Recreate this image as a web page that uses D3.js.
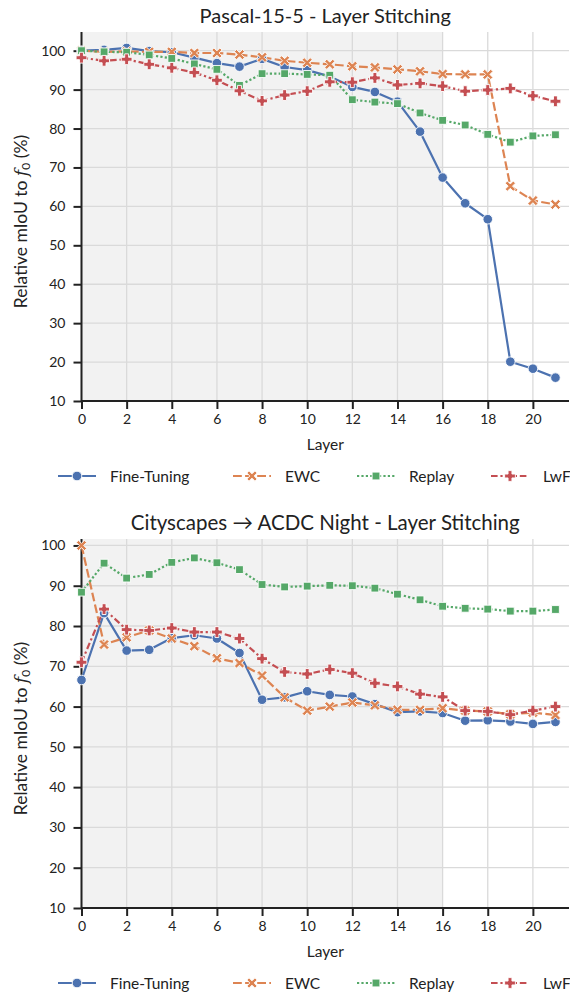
<!DOCTYPE html>
<html>
<head>
<meta charset="utf-8">
<script src="https://cdn.jsdelivr.net/npm/d3@7"></script>
<style>
  html, body { margin: 0; padding: 0; background: #fff; }
  svg { display: block; }
  text { font-family: Lato, "Open Sans", sans-serif; fill: #222; }
</style>
</head>
<body>
<svg id="chart" width="570" height="994"></svg>
<script>
// Layer index along the x axis
const layers = [0, 1, 2, 3, 4, 5, 6, 7, 8, 9, 10, 11, 12, 13, 14, 15, 16, 17, 18, 19, 20, 21];
const xTicks = [0, 2, 4, 6, 8, 10, 12, 14, 16, 18, 20];
const yTicks = [10, 20, 30, 40, 50, 60, 70, 80, 90, 100];
const methods = ["Fine-Tuning", "EWC", "Replay", "LwF"];

// Pascal-15-5: relative mIoU (%) per stitched layer
const pascalFineTuning = [100.0, 100.2, 100.7, 99.9, 99.6, 98.2, 96.8, 95.9, 97.9, 95.8, 95.0, 93.4, 90.7, 89.4, 86.9, 79.2, 67.4, 60.8, 56.7, 20.1, 18.3, 16.0];
const pascalEWC        = [100.0, 99.7, 99.8, 99.7, 99.7, 99.4, 99.4, 99.0, 98.3, 97.4, 96.9, 96.5, 96.0, 95.7, 95.2, 94.7, 94.0, 93.9, 93.9, 65.2, 61.5, 60.5];
const pascalReplay     = [100.0, 99.7, 99.6, 98.9, 98.0, 96.6, 95.2, 91.1, 94.1, 94.1, 93.9, 93.7, 87.4, 86.8, 86.4, 84.0, 82.1, 80.9, 78.5, 76.5, 78.1, 78.4];
const pascalLwF        = [98.2, 97.4, 97.8, 96.5, 95.6, 94.4, 92.4, 89.7, 87.1, 88.6, 89.6, 92.0, 91.9, 93.0, 91.2, 91.6, 90.9, 89.6, 89.9, 90.3, 88.4, 87.0];

// Cityscapes -> ACDC Night: relative mIoU (%) per stitched layer
const cityFineTuning = [66.6, 83.2, 73.9, 74.1, 77.0, 77.7, 76.9, 73.3, 61.7, 62.3, 63.8, 62.9, 62.5, 60.6, 58.6, 58.8, 58.4, 56.5, 56.6, 56.3, 55.7, 56.2];
const cityEWC        = [100.0, 75.4, 77.2, 78.9, 76.9, 75.0, 72.0, 70.8, 67.7, 62.3, 59.0, 60.0, 61.0, 60.3, 59.2, 59.2, 59.6, 59.0, 58.8, 58.1, 58.5, 57.9];
const cityReplay     = [88.4, 95.6, 91.9, 92.8, 95.8, 96.9, 95.7, 94.0, 90.3, 89.7, 89.9, 90.1, 90.0, 89.4, 87.9, 86.5, 84.9, 84.4, 84.2, 83.7, 83.7, 84.1];
const cityLwF        = [71.0, 84.2, 79.1, 78.9, 79.5, 78.5, 78.5, 76.9, 71.9, 68.6, 68.1, 69.2, 68.3, 65.8, 65.0, 63.1, 62.4, 59.0, 58.8, 58.0, 59.0, 60.0];

// Seaborn "deep" colours, line dashes and marker shapes per method
const colors  = { "Fine-Tuning": "#4c72b0", "EWC": "#dd8452", "Replay": "#55a868", "LwF": "#c44e52" };
const dashes  = { "Fine-Tuning": null, "EWC": "8.8,3.3", "Replay": "2.2,2.2", "LwF": "6.6,2.8,2.2,2.8" };
const markers = { "Fine-Tuning": "circle", "EWC": "x", "Replay": "square", "LwF": "plus" };

const panels = [
  { title: "Pascal-15-5 - Layer Stitching", top: 32, bottom: 401, yMax: 104.8, titleSize: 20,
    series: [pascalFineTuning, pascalEWC, pascalReplay, pascalLwF], legendY: 476 },
  { title: "Cityscapes \u2192 ACDC Night - Layer Stitching", top: 539, bottom: 908, yMax: 101.6, titleSize: 20.5,
    series: [cityFineTuning, cityEWC, cityReplay, cityLwF], legendY: 983 }
];

const left = 81.5, right = 569;
const svg = d3.select("#chart");

function markerPath(kind, s) {
  // s = half-size of the marker
  if (kind === "circle") {
    const p = d3.path();
    p.arc(0, 0, s, 0, 2 * Math.PI);
    p.closePath();
    return p.toString();
  }
  if (kind === "square") {
    const h = s * 0.85;
    return `M${-h},${-h}H${h}V${h}H${-h}Z`;
  }
  if (kind === "plus") {
    const a = s, w = s * 0.36;
    return `M${-w},${-a}H${w}V${-w}H${a}V${w}H${w}V${a}H${-w}V${w}H${-a}V${-w}H${-w}Z`;
  }
  // filled X
  const a = s * 0.95, w = s * 0.4;
  const pts = [[0, -w], [a - w, -a], [a, -a + w], [w, 0], [a, a - w], [a - w, a], [0, w], [-a + w, a], [-a, a - w], [-w, 0], [-a, -a + w], [-a + w, -a]];
  return "M" + pts.map(p => p.join(",")).join("L") + "Z";
}

function drawMarker(g, kind, color, x, y) {
  const size = kind === "circle" ? 4.8 : kind === "square" ? 4.6 : 5.4;
  g.append("path")
    .attr("d", markerPath(kind, size))
    .attr("transform", `translate(${x},${y})`)
    .attr("fill", color)
    .attr("stroke", "#fff")
    .attr("stroke-width", 0.9);
}

panels.forEach(panel => {
  const x = d3.scaleLinear().domain([0, 21.6]).range([left, right]);
  const y = d3.scaleLinear().domain([10, panel.yMax]).range([panel.bottom, panel.top]);
  const g = svg.append("g");

  // shaded region for layers 0-16
  g.append("rect")
    .attr("x", x(0)).attr("y", panel.top)
    .attr("width", x(16) - x(0)).attr("height", panel.bottom - panel.top)
    .attr("fill", "#f2f2f2");

  // grid
  g.append("g").selectAll("line").data(xTicks).join("line")
    .attr("x1", d => x(d)).attr("x2", d => x(d))
    .attr("y1", panel.top).attr("y2", panel.bottom)
    .attr("stroke", "#dadada").attr("stroke-width", 1.3);
  g.append("g").selectAll("line").data(yTicks).join("line")
    .attr("x1", left).attr("x2", right)
    .attr("y1", d => y(d)).attr("y2", d => y(d))
    .attr("stroke", "#dadada").attr("stroke-width", 1.3);

  // axes
  const xAxis = g.append("g").attr("transform", `translate(0,${panel.bottom})`)
    .call(d3.axisBottom(x).tickValues(xTicks).tickSize(8).tickPadding(5).tickSizeOuter(0));
  const yAxis = g.append("g").attr("transform", `translate(${left},0)`)
    .call(d3.axisLeft(y).tickValues(yTicks).tickSize(8).tickPadding(8).tickSizeOuter(0));
  [xAxis, yAxis].forEach(ax => {
    ax.select(".domain").attr("stroke", "#222").attr("stroke-width", 2);
    ax.selectAll(".tick line").attr("stroke", "#222").attr("stroke-width", 2);
    ax.selectAll(".tick text").attr("font-size", 14).attr("fill", "#222")
      .attr("font-family", "Lato, sans-serif");
  });
  xAxis.select(".domain").attr("d", `M${left},0H${right}`);
  yAxis.select(".domain").attr("d", `M0,${panel.bottom}V${panel.top}`);

  // series lines and markers
  panel.series.forEach((vals, i) => {
    const name = methods[i];
    const line = d3.line().x((d, j) => x(layers[j])).y(d => y(d));
    g.append("path")
      .datum(vals)
      .attr("d", line)
      .attr("fill", "none")
      .attr("stroke", colors[name])
      .attr("stroke-width", 2.2)
      .attr("stroke-linejoin", "round")
      .attr("stroke-dasharray", dashes[name]);
  });
  panel.series.forEach((vals, i) => {
    const name = methods[i];
    vals.forEach((v, j) => drawMarker(g, markers[name], colors[name], x(layers[j]), y(v)));
  });

  // title
  g.append("text")
    .attr("x", (left + right) / 2).attr("y", panel.top - 9)
    .attr("text-anchor", "middle").attr("font-size", panel.titleSize)
    .text(panel.title);

  // axis labels
  g.append("text")
    .attr("x", (left + right) / 2).attr("y", panel.bottom + 49)
    .attr("text-anchor", "middle").attr("font-size", 15.5)
    .text("Layer");

  const yl = g.append("text")
    .attr("transform", `translate(27,${(panel.top + panel.bottom) / 2 + 5}) rotate(-90)`)
    .attr("text-anchor", "middle").attr("font-size", 17.5);
  yl.append("tspan").text("Relative mIoU to ");
  yl.append("tspan").attr("font-family", "'DejaVu Serif', serif").attr("font-style", "italic").text("f");
  yl.append("tspan").attr("font-size", 12).attr("dy", 3).text("0");
  yl.append("tspan").attr("dy", -3).text(" (%)");

  // legend
  const legendX = [58, 233, 357, 491];
  methods.forEach((name, i) => {
    const lg = g.append("g");
    const lx = legendX[i], ly = panel.legendY;
    lg.append("line")
      .attr("x1", lx).attr("x2", lx + 38).attr("y1", ly).attr("y2", ly)
      .attr("stroke", colors[name]).attr("stroke-width", 2.2)
      .attr("stroke-dasharray", dashes[name]);
    drawMarker(lg, markers[name], colors[name], lx + 19, ly);
    lg.append("text")
      .attr("x", lx + 52).attr("y", ly + 5.5)
      .attr("font-size", 15.5)
      .text(name);
  });
});
</script>
</body>
</html>
